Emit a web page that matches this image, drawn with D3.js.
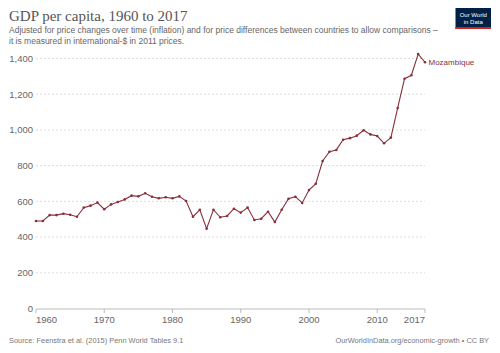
<!DOCTYPE html>
<html>
<head>
<meta charset="utf-8">
<script src="https://cdn.jsdelivr.net/npm/d3@7"></script>
<style>
  body { margin: 0; background: #fff; }
  svg { font-family: "Liberation Sans", Arial, sans-serif; }
</style>
</head>
<body>
<div id="chart"></div>
<script>
var years = d3.range(1960, 2018);
var gdp = [490, 490, 523, 523, 531, 525, 514, 565, 576, 593,
           556, 583, 596, 611, 632, 628, 645, 626, 617, 623,
           617, 628, 602, 514, 553, 447, 553, 511, 518, 559,
           537, 565, 496, 503, 542, 484, 553, 615, 626, 591,
           663, 699, 826, 878, 888, 945, 954, 968, 998, 975,
           966, 925, 957, 1123, 1287, 1306, 1425, 1379];
var yTicks = [0, 200, 400, 600, 800, 1000, 1200, 1400];
var xTicks = [1960, 1970, 1980, 1990, 2000, 2010, 2017];

var W = 500, H = 353;
var color = "#883039";

var svg = d3.select("#chart").append("svg")
    .attr("width", W)
    .attr("height", H);

var x = d3.scaleLinear().domain([1960, 2017]).range([36, 425]);
var y = d3.scaleLinear().domain([0, 1400]).range([308.5, 58.5]);

// title and subtitle
svg.append("text")
    .attr("x", 9).attr("y", 20.5)
    .style("font-family", "'Liberation Serif', 'DejaVu Serif', serif")
    .style("font-size", "15px")
    .style("fill", "#555")
    .text("GDP per capita, 1960 to 2017");

var sub = ["Adjusted for price changes over time (inflation) and for price differences between countries to allow comparisons \u2013",
           "it is measured in international-$ in 2011 prices."];
svg.selectAll(".sub").data(sub).enter().append("text")
    .attr("class", "sub")
    .attr("x", 9)
    .attr("y", function(d, i) { return 33 + i * 10.5; })
    .style("font-size", "8.5px")
    .style("fill", "#666")
    .text(function(d) { return d; });

// logo
var logo = svg.append("g").attr("transform", "translate(455.5,8)");
logo.append("rect").attr("width", 35.5).attr("height", 21).attr("fill", "#002147");
logo.append("rect").attr("y", 19).attr("width", 35.5).attr("height", 2).attr("fill", "#ce261e");
logo.selectAll("text").data(["Our World", "in Data"]).enter().append("text")
    .attr("x", 17.75)
    .attr("y", function(d, i) { return 8.5 + i * 7; })
    .attr("text-anchor", "middle")
    .style("font-size", "6px")
    .style("fill", "#fff")
    .text(function(d) { return d; });

// gridlines
svg.append("g").selectAll("line").data(yTicks.slice(1)).enter().append("line")
    .attr("x1", x(1960)).attr("x2", x(2017))
    .attr("y1", function(d) { return y(d); })
    .attr("y2", function(d) { return y(d); })
    .attr("stroke", "#ddd")
    .attr("stroke-dasharray", "2,2")
    .attr("stroke-width", 1);

// y labels
svg.append("g").selectAll("text").data(yTicks).enter().append("text")
    .attr("x", 33)
    .attr("y", function(d) { return y(d) + 3.3; })
    .attr("text-anchor", "end")
    .style("font-size", "9.5px")
    .style("fill", "#666")
    .text(function(d) { return d3.format(",")(d); });

// x axis
svg.append("line")
    .attr("x1", x(1960)).attr("x2", x(2017))
    .attr("y1", 309).attr("y2", 309)
    .attr("stroke", "#bbb");

svg.append("g").selectAll("line").data(xTicks).enter().append("line")
    .attr("x1", function(d) { return x(d); })
    .attr("x2", function(d) { return x(d); })
    .attr("y1", 309).attr("y2", 313)
    .attr("stroke", "#bbb");

svg.append("g").selectAll("text").data(xTicks).enter().append("text")
    .attr("x", function(d) { return x(d); })
    .attr("y", 323)
    .attr("text-anchor", function(d, i) {
        if (i == 0) return "start";
        if (i == xTicks.length - 1) return "end";
        return "middle";
    })
    .style("font-size", "9.5px")
    .style("fill", "#666")
    .text(function(d) { return d; });

// line
var pts = years.map(function(d, i) { return [d, gdp[i]]; });

svg.append("path")
    .datum(pts)
    .attr("fill", "none")
    .attr("stroke", color)
    .attr("stroke-width", 1.1)
    .attr("d", d3.line()
        .x(function(d) { return x(d[0]); })
        .y(function(d) { return y(d[1]); }));

svg.append("g").selectAll("circle").data(pts).enter().append("circle")
    .attr("cx", function(d) { return x(d[0]); })
    .attr("cy", function(d) { return y(d[1]); })
    .attr("r", 1.3)
    .attr("fill", color);

svg.append("text")
    .attr("x", x(2017) + 3.5)
    .attr("y", y(gdp[gdp.length - 1]) + 3)
    .style("font-size", "8px")
    .style("fill", color)
    .text("Mozambique");

// footer
svg.append("text")
    .attr("x", 9).attr("y", 343)
    .style("font-size", "7.4px")
    .style("fill", "#777")
    .text("Source: Feenstra et al. (2015) Penn World Tables 9.1");

svg.append("text")
    .attr("x", 489).attr("y", 343)
    .attr("text-anchor", "end")
    .style("font-size", "7.4px")
    .style("fill", "#777")
    .text("OurWorldInData.org/economic-growth \u2022 CC BY");
</script>
</body>
</html>
